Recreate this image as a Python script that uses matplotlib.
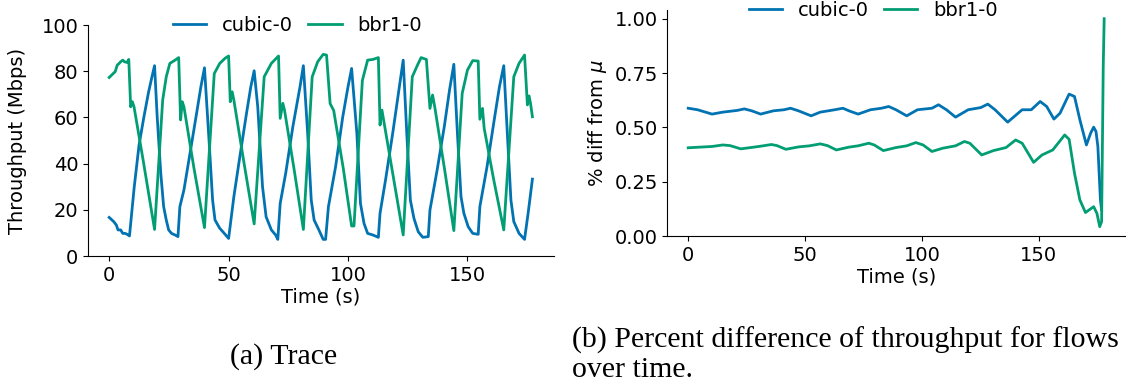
import matplotlib
matplotlib.use("Agg")
import matplotlib.pyplot as plt

# ---- (a) throughput trace: (time s, Mbps) vertices per flow ----
cubic_t = [0, 1.9, 3, 3.7, 4.8, 5.7, 6.7, 7.5, 8.5,
           10.5, 12.5, 14.5, 16.5, 18, 19,
           20.1, 21.6, 22.8, 23.9, 24.9, 26.1, 27.6, 28.8,
           29.6, 31.3, 34.3, 36.6, 38.4, 39.9,
           41.8, 43.3, 44.3, 46.3, 48.2, 50,
           52.2, 54.5, 57.5, 59.3, 60.7,
           62.2, 64.2, 65.7, 67.9, 69.7, 70.6,
           71.6, 73.9, 76.9, 79.9, 81.3,
           83.1, 84.6, 85.8, 87.8, 89.6, 90.6,
           91.8, 94.8, 97.8, 100, 101.5,
           103.7, 105.2, 106.7, 108.2, 110.4, 112.7,
           113.4, 115.7, 118.7, 121.3, 123.1,
           124.6, 126.1, 127.6, 129.4, 131.3, 133.6,
           134.3, 137.3, 140.3, 142.5, 144.3,
           145.8, 147.3, 148.5, 150.3, 152.2, 154.5,
           155.2, 158.2, 161.2, 163.4, 165.2,
           166.7, 168.2, 169.4, 171.6, 173.9,
           175.4, 177.2]
cubic_v = [16.7, 14.9, 13.4, 11.3, 11.3, 9.8, 9.8, 9.4, 8.7,
           30, 48, 60, 71, 78, 82.4,
           60.3, 35.8, 21.4, 15.6, 11.3, 9.8, 9.1, 8.4,
           21.4, 28.6, 47.3, 61.8, 73.3, 81.5,
           50.2, 24.2, 15.6, 12, 9.8, 7.6,
           25.7, 41.6, 61.8, 73.3, 80.2,
           64.6, 30, 17, 11.3, 9.1, 7.2,
           22.8, 35.8, 56, 73.3, 82.4,
           53.1, 24.2, 15.6, 11.3, 7.2, 7.2,
           21.4, 38.7, 60.3, 73.3, 81.2,
           53.1, 22.8, 14.1, 9.8, 9.1, 8.1,
           18.5, 32.9, 53.1, 71.9, 84.8,
           53.1, 24.2, 16.3, 10.5, 8.1, 8.4,
           19.9, 37.2, 56, 71.9, 83,
           53.1, 25.7, 18.5, 12.7, 9.8, 9.4,
           21.4, 38.7, 58.9, 73.3, 82.4,
           53.1, 24.2, 14.9, 9.8, 7.2,
           18.5, 33.3]

bbr_t = [0, 1.5, 2.5, 3.4, 4.2, 4.8, 5.7, 6.4, 7.5, 8.2,
         9, 9.7, 10.4, 14.2, 17.2, 19,
         22.4, 23.9, 25.4, 27.6, 29.1,
         29.9, 30.6, 31.3, 35.5, 39.9,
         44, 46.3, 48.5, 50,
         50.7, 51.5, 52.2, 56.5, 60.7,
         64.9, 67.9, 70.9,
         71.6, 72.7, 73.4, 77.5, 81.3,
         85, 87.3, 89.6, 91,
         92.5, 94, 98, 101.5, 102.5,
         106, 108.2, 110.4, 112.7,
         113.4, 114.2, 114.9, 119, 123.1,
         126.9, 129.1, 130.6, 132.8,
         134.3, 135.4, 136.3, 140.5, 144.3,
         147.8, 150, 152.2, 154.5,
         155.2, 156.3, 157, 161, 165.2,
         169.4, 171.6, 173.9,
         175.1, 175.8, 176.4, 177.2]
bbr_v = [77.3, 78.8, 79.8, 82.7, 83.4, 84.1, 84.8, 84.1, 83.8, 85.1,
         64.6, 66.8, 64.6, 41.6, 22.8, 11.5,
         67.5, 77.6, 83.4, 84.8, 85.9,
         58.9, 66.8, 64.6, 38, 12.3,
         79, 83.4, 85.6, 86.6,
         66.8, 71.1, 67.5, 40, 13.9,
         77.6, 83.4, 86.6,
         59.6, 66.1, 63.2, 37, 11.5,
         77.6, 84.1, 87.3, 87,
         66, 63, 38, 13, 13,
         76, 84.8, 85.1, 85.9,
         56.7, 63.2, 58.9, 34, 9.1,
         77.6, 82.7, 85.9, 85.1,
         63.9, 69.7, 64.6, 37, 11,
         70.4, 80.5, 84.6, 84.4,
         59.2, 63.9, 55.3, 33, 11.3,
         77.6, 83.4, 87,
         65.4, 69.3, 66.1, 60.3]

# ---- (b) fractional difference from the mean ----
dcubic_t = [0, 4, 10.2, 14.8, 21, 24, 27.2, 31, 36.4, 41, 43.8, 47.2,
            52.6, 56.5, 62.7, 66.2, 68.8, 72.7, 78, 82.7, 85.8, 88.9,
            93.5, 98.1, 104.3, 107.1, 110.5, 114.4, 119.8, 125.2, 128.2,
            131.3, 136.7, 142.9, 146.8, 150.6, 153.4, 156.5, 159.1, 163,
            165.3, 167.6, 170.4, 172.2, 173.5, 174.5, 175.3, 176.4, 176.9]
dcubic_v = [0.588, 0.581, 0.561, 0.570, 0.578, 0.585, 0.576, 0.561, 0.576,
            0.581, 0.588, 0.576, 0.553, 0.570, 0.581, 0.588, 0.576, 0.561,
            0.581, 0.588, 0.596, 0.581, 0.553, 0.581, 0.588, 0.604, 0.581,
            0.547, 0.581, 0.591, 0.607, 0.581, 0.524, 0.581, 0.581, 0.619,
            0.596, 0.538, 0.565, 0.653, 0.642, 0.535, 0.419, 0.473, 0.501,
            0.481, 0.412, 0.166, 0.12]

dbbr_t = [0, 10.2, 14.8, 17.9, 22.5, 30.2, 35.6, 38, 41.8, 47.2, 51.9,
          56.5, 59.6, 63.4, 68.8, 72.7, 77.3, 79.6, 83.5, 88.9, 93.5,
          97.4, 100.5, 104.3, 108.9, 114.4, 118.2, 120.5, 125.6, 130.6,
          136, 140.1, 142.9, 147.8, 151.4, 156, 161.1, 163, 165.3, 167.6,
          170, 173.5, 174.9, 176.1, 176.9, 177.6, 178]
dbbr_v = [0.406, 0.412, 0.419, 0.416, 0.401, 0.412, 0.421, 0.416, 0.399,
          0.410, 0.415, 0.424, 0.416, 0.396, 0.409, 0.415, 0.427, 0.419,
          0.393, 0.407, 0.415, 0.430, 0.419, 0.389, 0.404, 0.415, 0.435,
          0.427, 0.373, 0.393, 0.407, 0.442, 0.427, 0.339, 0.373, 0.396,
          0.465, 0.445, 0.289, 0.166, 0.108, 0.135, 0.104, 0.043, 0.066,
          0.780, 1.0]

labels = ["cubic-0", "bbr1-0"]
colors = ["#0173b2", "#029e73"]
xticks = [0, 50, 100, 150]

plt.rcParams["font.family"] = "DejaVu Sans"
plt.rcParams["font.size"] = 14

fig = plt.figure(figsize=(11.27, 3.85), dpi=100)
ax1 = fig.add_axes([0.0781, 0.335, 0.4131, 0.600])
ax2 = fig.add_axes([0.5922, 0.387, 0.4060, 0.587])

lw = 2.0
ax1.plot(cubic_t, cubic_v, color=colors[0], lw=lw, label=labels[0])
ax1.plot(bbr_t, bbr_v, color=colors[1], lw=lw, label=labels[1])
ax1.set_ylim(0, 100)
ax1.set_yticks([0, 20, 40, 60, 80, 100])
ax1.set_ylabel("Throughput (Mbps)")
ax1.yaxis.set_label_coords(-0.131, 0.5)
ax1.set_xlabel("Time (s)", labelpad=2)

ax2.plot(dcubic_t, dcubic_v, color=colors[0], lw=lw, label=labels[0])
ax2.plot(dbbr_t, dbbr_v, color=colors[1], lw=lw, label=labels[1])
ax2.set_ylim(0, 1.04)
ax2.set_yticks([0, 0.25, 0.5, 0.75, 1.0])
ax2.set_yticklabels(["0.00", "0.25", "0.50", "0.75", "1.00"])
ax2.set_ylabel(r"% diff from $\mu$")
ax2.set_xlabel("Time (s)", labelpad=2)

for ax in (ax1, ax2):
    ax.set_xticks(xticks)
    for side in ("top", "right"):
        ax.spines[side].set_visible(False)
    ax.legend(loc="center", bbox_to_anchor=(0.45, 1.0), ncol=2,
              frameon=False, handlelength=1.7, columnspacing=0.8,
              handletextpad=0.8, fontsize=14, borderaxespad=0)

cap = dict(family="Liberation Serif", fontsize=21.5, va="center", ha="left")
fig.text(230 / 1127, 1 - 357 / 385, "(a) Trace", **cap)
fig.text(572 / 1127, 1 - 340 / 385,
         "(b) Percent difference of throughput for flows", **cap)
fig.text(572 / 1127, 1 - 370 / 385, "over time.", **cap)

fig.savefig("out.png", dpi=100)
